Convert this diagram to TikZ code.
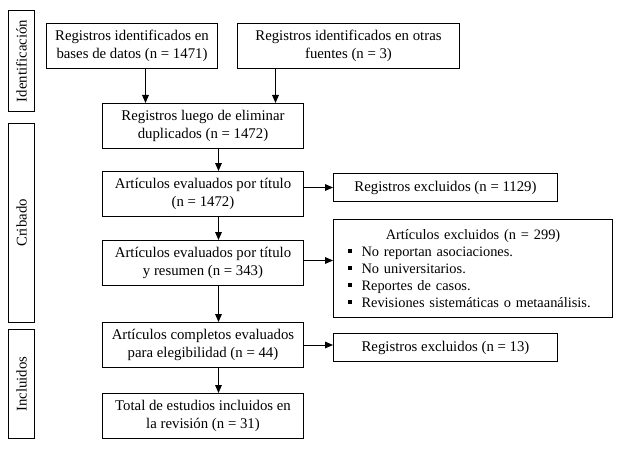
\documentclass[tikz,border=0pt]{standalone}
\usepackage{fontspec}
\setmainfont{Liberation Serif}
\usetikzlibrary{arrows.meta}
\newcommand{\mybul}{\makebox[10.5pt][l]{\rule[0.22em]{3pt}{3pt}}}
\begin{document}
\begin{tikzpicture}[x=0.75pt,y=-0.75pt,
  box/.style={draw,line width=0.75pt,inner sep=0pt,align=center,
    font=\fontsize{11.1pt}{13.5pt}\selectfont},
  mainbox/.style={box,minimum width=150.75pt,minimum height=33.75pt},
  sidebox/.style={box,rotate=90,minimum height=19.5pt},
  exbox/.style={box,minimum width=168pt,minimum height=21pt},
  arr/.style={line width=0.75pt,-{Triangle[length=6pt,width=5pt]}}]
\useasboundingbox (-0.5,-0.5) rectangle (628.5,459.5);
% side boxes
\node[sidebox,minimum width=75.75pt] (id) at (21,60.5) {Identificación};
\node[sidebox,minimum width=149.25pt] (cr) at (21,222.5) {Cribado};
\node[sidebox,minimum width=81.75pt] (inc) at (21,383.5) {Incluidos};
% top boxes
\node[box,minimum width=128.25pt,minimum height=33.75pt] (A) at (131.5,45.5)
  {Registros identificados en\\bases de datos (n = 1471)};
\node[box,minimum width=166.5pt,minimum height=33.75pt] (B) at (348,45.5)
  {Registros identificados en otras\\fuentes (n = 3)};
% main column
\node[mainbox] (C) at (202.5,125.5) {Registros luego de eliminar\\duplicados (n = 1472)};
\node[mainbox] (D) at (202.5,193.5) {Artículos evaluados por título\\(n = 1472)};
\node[mainbox] (E) at (202.5,262.5) {Artículos evaluados por título\\y resumen (n = 343)};
\node[mainbox] (F) at (202.5,344.5) {Artículos completos evaluados\\para elegibilidad (n = 44)};
\node[mainbox] (G) at (202.5,415.5) {Total de estudios incluidos en\\la revisión (n = 31)};
% exclusion boxes
\node[exbox] (R1) at (445,187) {Registros excluidos (n = 1129)};
\node[box,minimum width=209.25pt,minimum height=73.5pt,text width=188.25pt,align=left,
  font=\fontsize{10.8pt}{12.75pt}\selectfont] (R2) at (472.5,268)
  {\makebox[188.25pt]{Artículos excluidos (n = 299)}\\
   \mybul No reportan asociaciones.\\
   \mybul No universitarios.\\
   \mybul Reportes de casos.\\
   \mybul Revisiones sistemáticas o metaanálisis.};
\node[exbox] (R3) at (445,347) {Registros excluidos (n = 13)};
% coordinates for connector positions
\coordinate (xa) at (145,0);
\coordinate (xb) at (275,0);
\coordinate (xm) at (218,0);
\coordinate (ye) at (0,260);
% connectors
\draw[arr] (A.south -| xa) -- (C.north -| xa);
\draw[arr] (B.south -| xb) -- (C.north -| xb);
\draw[arr] (C.south -| xm) -- (D.north -| xm);
\draw[arr] (D.south -| xm) -- (E.north -| xm);
\draw[arr] (E.south -| xm) -- (F.north -| xm);
\draw[arr] (F.south -| xm) -- (G.north -| xm);
\draw[arr] (D.east |- R1.west) -- (R1.west);
\draw[arr] (E.east |- ye) -- (R2.west |- ye);
\draw[arr] (F.east) -- (F.east -| R3.west);
\end{tikzpicture}
\end{document}
